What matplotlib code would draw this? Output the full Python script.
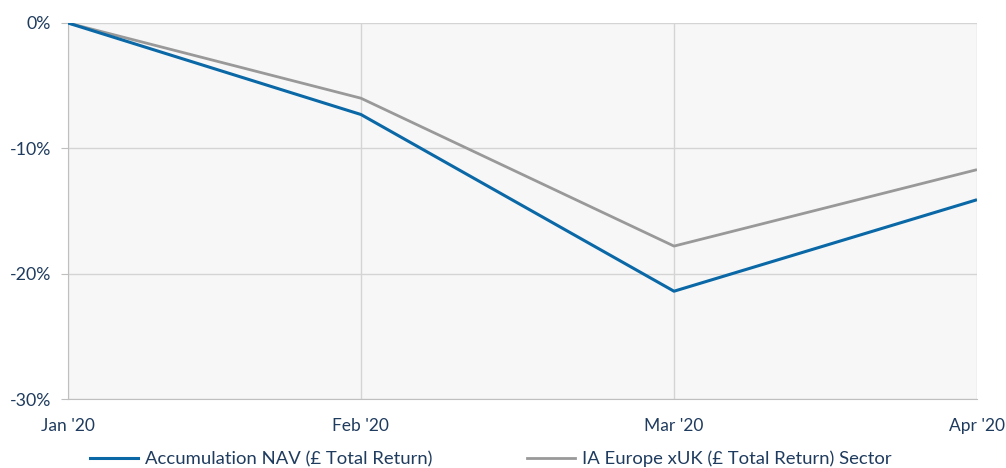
import matplotlib
matplotlib.use("Agg")
import matplotlib.pyplot as plt
from matplotlib.lines import Line2D
from matplotlib.ticker import FuncFormatter
import datetime as dt

dates = [dt.date(2020, 1, 31), dt.date(2020, 2, 29), dt.date(2020, 3, 31), dt.date(2020, 4, 30)]
months = ["Jan '20", "Feb '20", "Mar '20", "Apr '20"]
nav = [0.0, -7.3, -21.4, -14.1]
sector = [0.0, -6.0, -17.8, -11.7]
nav_label = "Accumulation NAV (£ Total Return)"
sector_label = "IA Europe xUK (£ Total Return) Sector"

text_color = "#1f3b5e"
blue = "#0a68a6"
grey = "#999999"
grid_c = "#d4d4d4"

plt.rcParams['font.family'] = ['Lato', 'DejaVu Sans']

fig = plt.figure(figsize=(10.06, 4.68), dpi=100)
ax = fig.add_axes([68/1006, 1-399/468, (977-68)/1006, (399-23)/468])
ax.set_facecolor("#f7f7f7")

ax.plot(dates, sector, color=grey, lw=2.0, solid_capstyle='butt', zorder=3)
ax.plot(dates, nav, color=blue, lw=2.2, solid_capstyle='butt', zorder=4)

ax.set_xlim(dates[0], dates[-1])
ax.set_ylim(-30, 0)
ax.set_xticks(dates)
ax.set_xticklabels(months)
ax.set_yticks([0, -10, -20, -30])
ax.yaxis.set_major_formatter(FuncFormatter(lambda v, p: f"{int(round(v))}%"))

ax.grid(True, color=grid_c, lw=1.0, zorder=0)
ax.set_axisbelow(True)
for s in ['top', 'right']:
    ax.spines[s].set_visible(False)
ax.spines['left'].set_color("#bfbfbf")
ax.spines['bottom'].set_color("#bfbfbf")
ax.tick_params(axis='y', colors="#bfbfbf", labelcolor=text_color, labelsize=12.8, length=5, pad=7)
ax.tick_params(axis='x', length=0, labelcolor=text_color, labelsize=12.5, pad=14)

h1 = Line2D([], [], color=blue, lw=2.2)
h2 = Line2D([], [], color=grey, lw=2.0)
for h, lab, x0 in [(h1, nav_label, 90), (h2, sector_label, 527)]:
    fig.legend([h], [lab], loc='center left', bbox_to_anchor=(x0/1006, 9/468),
               frameon=False, fontsize=13.3, handlelength=2.6, handletextpad=0.38,
               labelcolor=text_color, borderaxespad=0, borderpad=0)

fig.savefig("out.png", dpi=100)
